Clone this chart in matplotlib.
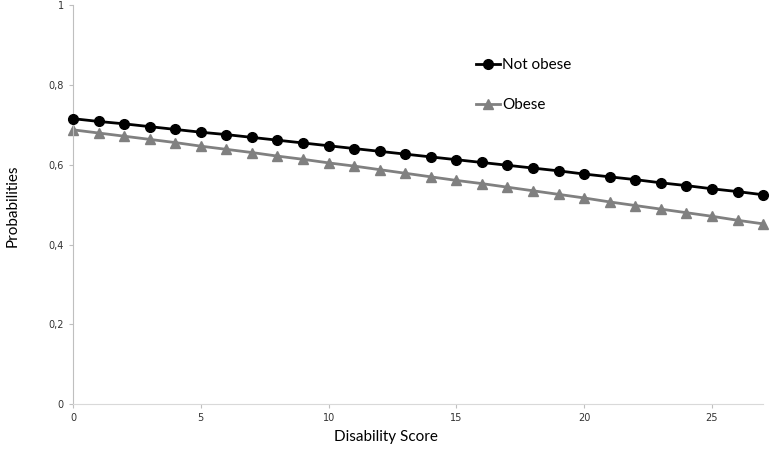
import numpy as np
import matplotlib.pyplot as plt

# Disability score 0..27
scores = list(range(28))

not_obese = [0.716, 0.709, 0.703, 0.696, 0.689, 0.682, 0.676, 0.669, 0.662, 0.655,
             0.648, 0.641, 0.634, 0.627, 0.620, 0.613, 0.606, 0.599, 0.592, 0.585,
             0.577, 0.570, 0.563, 0.555, 0.548, 0.540, 0.533, 0.525]
obese = [0.688, 0.680, 0.672, 0.664, 0.656, 0.647, 0.639, 0.631, 0.622, 0.614,
         0.605, 0.597, 0.588, 0.579, 0.570, 0.561, 0.553, 0.544, 0.535, 0.526,
         0.517, 0.507, 0.498, 0.489, 0.480, 0.471, 0.461, 0.452]

y_ticks = [0, 0.2, 0.4, 0.6, 0.8, 1]
y_tick_labels = ['0', '0,2', '0,4', '0,6', '0,8', '1']
x_ticks = [0, 5, 10, 15, 20, 25]

fig = plt.figure(figsize=(7.71, 4.58), dpi=100)
ax = fig.add_axes([0.0947, 0.118, 0.895, 0.870])

ax.plot(scores, not_obese, color='black', lw=2, marker='o', markersize=7,
        label='Not obese', clip_on=False, zorder=3)
ax.plot(scores, obese, color='#808080', lw=2, marker='^', markersize=7,
        label='Obese', clip_on=False, zorder=2)

ax.set_xlim(0, 27)
ax.set_ylim(0, 1)
ax.set_xticks(x_ticks)
ax.set_yticks(y_ticks)
ax.set_yticklabels(y_tick_labels)
ax.tick_params(labelsize=7, colors='#bfbfbf', labelcolor='#333333', length=3, width=0.8)

for side in ['top', 'right']:
    ax.spines[side].set_visible(False)
ax.spines['left'].set_color('#bfbfbf')
ax.spines['bottom'].set_color('#d9d9d9')

fig.text(0.5, 0.045, 'Disability Score', ha='center', va='center', fontsize=11,
         family='Lato')
fig.text(0.016, 0.55, 'Probabilities', ha='center', va='center', rotation=90,
         fontsize=11, family='Lato')

ax.legend(loc='upper left', bbox_to_anchor=(0.564, 0.902), frameon=False,
          prop={'family': 'Lato', 'size': 11}, labelspacing=1.7,
          handlelength=1.6, handletextpad=0.1)

plt.savefig('out.png', dpi=100)
